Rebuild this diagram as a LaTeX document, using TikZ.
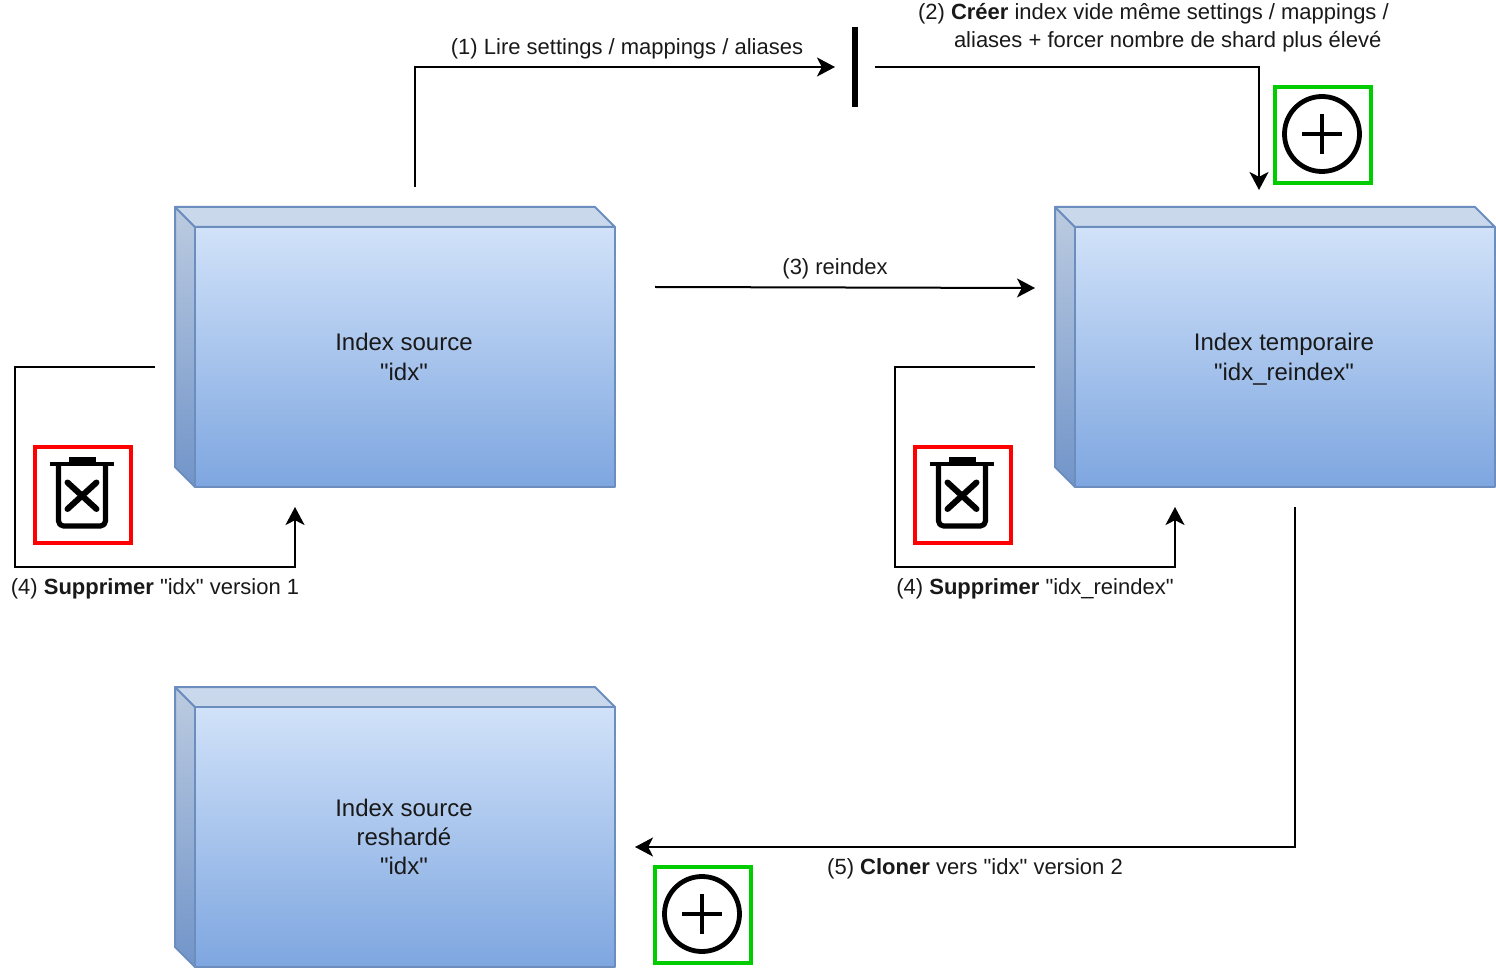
\documentclass[tikz,border=0pt]{standalone}
\usepackage{fontspec}
\setmainfont{Liberation Sans}[Ligatures=TeXOff]
\usetikzlibrary{arrows.meta}
\definecolor{edgeblue}{HTML}{6C8EBF}
\definecolor{frontT}{HTML}{D1E2F9}
\definecolor{frontB}{HTML}{7EA6E0}
\definecolor{sideT}{HTML}{BCCBE0}
\definecolor{sideB}{HTML}{7194C9}
\definecolor{topC}{HTML}{C9D8EB}
\definecolor{delred}{HTML}{FF0000}
\definecolor{addgreen}{HTML}{00CC00}
\tikzset{
  x=0.5pt,y=-0.5pt,
  every node/.style={font=\fontsize{11}{14}\selectfont,inner sep=0pt,outer sep=0pt,text=black!90},
  frontface/.style={draw=edgeblue,line width=1pt,top color=frontT,bottom color=frontB,minimum width=210pt,minimum height=130pt,align=center,anchor=north west,line join=round,font=\fontsize{12}{14.7}\selectfont},
  sideface/.style={draw=edgeblue,line width=1pt,top color=sideT,bottom color=sideB,line join=round},
  topface/.style={draw=edgeblue,line width=1pt,fill=topC,line join=round},
  link/.style={line width=1pt,-{Stealth[length=9pt,width=9.5pt,inset=2.4pt]}},
  redframe/.style={draw=delred,line width=2pt,minimum size=48pt},
  greenframe/.style={draw=addgreen,line width=2pt,minimum size=48pt},
  glyph/.style={line width=2.4pt,black,line join=round},
  label/.style={align=center},
}
\newcommand{\indexbox}[4]{% name, x, y, text
  \path[sideface] (#2-20,#3-20) -- (#2,#3) -- (#2,#3+260) -- (#2-20,#3+240) -- cycle;
  \path[topface] (#2-20,#3-20) -- (#2+400,#3-20) -- (#2+420,#3) -- (#2,#3) -- cycle;
  \node[frontface] (#1) at (#2,#3) {#4};
}
\newcommand{\trashicon}[2]{% frame name, centre x
  \node[redframe] (#1) at (#2,495) {};
  \draw[glyph,line width=2.3pt] (#2-33,464) -- (#2+31,464);
  \draw[glyph,line width=2.6pt] (#2-14,460) -- (#2+13,460);
  \draw[glyph,line width=2.6pt] (#2-24.5,465) -- (#2-24.5,521) arc[start angle=180,end angle=90,radius=5] -- (#2+17.5,526) arc[start angle=90,end angle=0,radius=5] -- (#2+22.5,465);
  \draw[glyph,line width=3pt,line cap=round] (#2-15.5,482.5) -- (#2+13.5,509);
  \draw[glyph,line width=3pt,line cap=round] (#2+13.5,482.5) -- (#2-15.5,509);
}
\newcommand{\plusicon}[3]{% frame name, cx, cy
  \node[greenframe] (#1) at (#2+1,#3+1) {};
  \draw[glyph] (#2,#3) circle[radius=37.5];
  \draw[glyph] (#2-20,#3) -- (#2+20,#3);
  \draw[glyph] (#2,#3-20) -- (#2,#3+20);
}
\begin{document}
\begin{tikzpicture}
\useasboundingbox (0,0) rectangle (1496,968);
\indexbox{src}{195}{227}{Index source\kern1pt\\"idx"\kern1pt}
\indexbox{tmp}{1075}{227}{Index temporaire\kern1pt\\"idx\smash{\_}reindex"\kern1pt}
\indexbox{res}{195}{707}{Index source\kern1pt\\reshardé\kern1pt\\"idx"\kern1pt}

\node[fill=black,minimum width=3pt,minimum height=40pt] (bar) at (855,67) {};

\trashicon{trashA}{83}
\trashicon{trashB}{963}
\plusicon{plusA}{1322}{134}
\plusicon{plusB}{702}{914}

\coordinate (a1) at (415,187);
\coordinate (a2) at (835,67);
\coordinate (b1) at (875,67);
\coordinate (b2) at (1259,190);
\coordinate (c1) at (655,287);
\coordinate (c2) at (1035,288);
\coordinate (d1) at (155,367);
\coordinate (d2) at (295,507);
\coordinate (e1) at (1035,367);
\coordinate (e2) at (1175,507);
\coordinate (f1) at (1295,507);
\coordinate (f2) at (635,847);

\draw[link] (a1) |- (a2);
\draw[link] (b1) -| (b2);
\draw[link] (c1) -- (c2);
\draw[link] (d1) -- (15,367) -- (15,567) -| (d2);
\draw[link] (e1) -- (895,367) -- (895,567) -| (e2);
\draw[link] (f1) |- (f2);

\node[label] (l1) at (627,49) {(1) Lire settings / mappings / aliases};
\node[align=left,anchor=west] (l2) at (918,28) {(2) \textbf{Créer} index vide même settings / mappings /\\\hspace*{18pt}aliases + forcer nombre de shard plus élevé};
\node[label] (l3) at (835,269) {(3) reindex};
\node[label] (l4) at (155,589) {(4) \textbf{Supprimer} "idx" version 1};
\node[label] (l5) at (1035,589) {(4) \textbf{Supprimer} "idx\_reindex"};
\node[label] (l6) at (975,869) {(5) \textbf{Cloner} vers "idx" version 2};
\end{tikzpicture}
\end{document}
